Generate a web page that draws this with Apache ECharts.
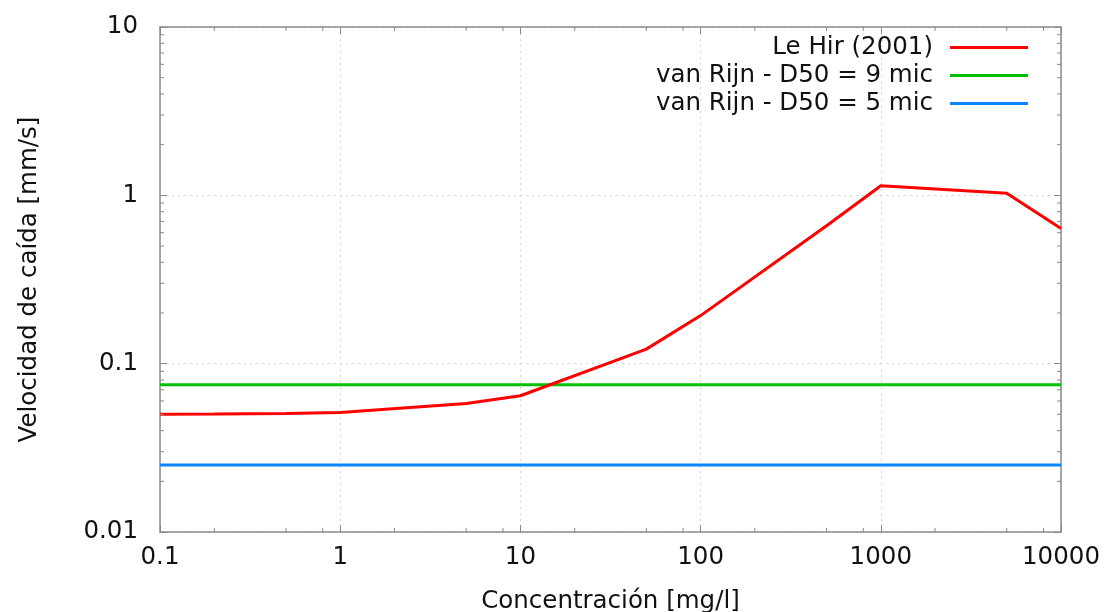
<!DOCTYPE html>
<html>
<head>
<meta charset="utf-8">
<script src="https://cdn.jsdelivr.net/npm/echarts@6/dist/echarts.min.js"></script>
<style>
  html, body { margin: 0; padding: 0; background: #fff; }
  #chart { width: 1111px; height: 612px; }
</style>
</head>
<body>
<div id="chart"></div>
<script>
// Concentration (mg/l) and settling velocity (mm/s)
const concentration = [0.1, 0.2, 0.5, 1, 5, 10, 50, 100, 500, 1000, 5000, 10000];
const leHir = [0.050, 0.0502, 0.0506, 0.0512, 0.058, 0.0645, 0.122, 0.193, 0.66, 1.14, 1.03, 0.635];
const vanRijnD9 = 0.075;
const vanRijnD5 = 0.025;
const xRange = [0.1, 10000];
const yRange = [0.01, 10];
const seriesNames = ['Le Hir (2001)', 'van Rijn - D50 = 9 mic', 'van Rijn - D50 = 5 mic'];

// Minor tick positions on the log axes
const xMinorFactors = [2, 5, 8];
const yMinorFactors = [2, 3, 4, 5, 6, 7, 8, 9];
const xDecades = [0.1, 1, 10, 100, 1000];
const yDecades = [0.01, 0.1, 1];

const xMinor = [];
xDecades.forEach(d => xMinorFactors.forEach(f => xMinor.push([d * f, yRange[0]])));
const yMinor = [];
yDecades.forEach(d => yMinorFactors.forEach(f => yMinor.push([xRange[0], d * f])));

const FONT = 'DejaVu Sans';
const FONT_SIZE = 24.5;
const TEXT_COLOR = '#111';
const AXIS_COLOR = '#8a8a8a';

// Plain decimal tick text (no thousands separators)
function tickText(v) {
  return String(+v.toPrecision(6));
}

const chart = echarts.init(document.getElementById('chart'), null, { renderer: 'canvas' });

function minorTickSeries(data, dir) {
  return {
    type: 'custom',
    silent: true,
    clip: false,
    data: data,
    z: 5,
    renderItem: function (params, api) {
      const len = 4;
      const lines = [];
      if (dir === 'x') {
        const bot = api.coord([api.value(0), yRange[0]]);
        const top = api.coord([api.value(0), yRange[1]]);
        lines.push({ x1: bot[0], y1: bot[1], x2: bot[0], y2: bot[1] - len });
        lines.push({ x1: top[0], y1: top[1], x2: top[0], y2: top[1] + len });
      } else {
        const l = api.coord([xRange[0], api.value(1)]);
        const r = api.coord([xRange[1], api.value(1)]);
        lines.push({ x1: l[0], y1: l[1], x2: l[0] + len, y2: l[1] });
        lines.push({ x1: r[0], y1: r[1], x2: r[0] - len, y2: r[1] });
      }
      return {
        type: 'group',
        children: lines.map(s => ({
          type: 'line',
          shape: s,
          style: { stroke: AXIS_COLOR, lineWidth: 1 }
        }))
      };
    }
  };
}

const commonAxis = {
  type: 'log',
  logBase: 10,
  axisLine: { show: true, onZero: false, lineStyle: { color: AXIS_COLOR, width: 1.5 } },
  axisTick: { show: true, inside: true, length: 7, lineStyle: { color: AXIS_COLOR } },
  minorTick: { show: false },
  splitLine: { show: false }
};

const gridLine = { show: true, lineStyle: { color: '#d6d6d6', type: [2, 4], width: 1 } };

const option = {
  animation: false,
  backgroundColor: '#ffffff',
  textStyle: { fontFamily: FONT },
  grid: { left: 160, right: 50, top: 27, bottom: 80, containLabel: false, outerBoundsMode: 'none' },
  legend: {
    data: seriesNames,
    orient: 'vertical',
    right: 78,
    top: 30,
    align: 'right',
    itemWidth: 78,
    itemHeight: 3,
    itemGap: 3,
    icon: 'rect',
    textStyle: { fontFamily: FONT, fontSize: FONT_SIZE, color: TEXT_COLOR, padding: [0, 12, 0, 0] }
  },
  xAxis: [
    Object.assign({}, commonAxis, {
      min: xRange[0], max: xRange[1],
      name: 'Concentración [mg/l]',
      nameLocation: 'middle',
      nameGap: 57,
      nameTextStyle: { fontFamily: FONT, fontSize: FONT_SIZE, color: TEXT_COLOR },
      axisLabel: { fontFamily: FONT, fontSize: FONT_SIZE, color: TEXT_COLOR, margin: 13, formatter: tickText },
      splitLine: gridLine
    }),
    Object.assign({}, commonAxis, {
      min: xRange[0], max: xRange[1], position: 'top',
      axisLabel: { show: false }
    })
  ],
  yAxis: [
    Object.assign({}, commonAxis, {
      min: yRange[0], max: yRange[1],
      name: 'Velocidad de caída [mm/s]',
      nameLocation: 'middle',
      nameGap: 118,
      nameTextStyle: { fontFamily: FONT, fontSize: FONT_SIZE, color: TEXT_COLOR },
      axisLabel: { fontFamily: FONT, fontSize: FONT_SIZE, color: TEXT_COLOR, margin: 22, formatter: tickText },
      splitLine: gridLine
    }),
    Object.assign({}, commonAxis, {
      min: yRange[0], max: yRange[1], position: 'right',
      axisLabel: { show: false }
    })
  ],
  series: [
    {
      name: seriesNames[0],
      type: 'line',
      data: concentration.map((c, i) => [c, leHir[i]]),
      showSymbol: false,
      symbol: 'none',
      lineStyle: { color: '#ff0000', width: 3 },
      itemStyle: { color: '#ff0000' },
      z: 4
    },
    {
      name: seriesNames[1],
      type: 'line',
      data: xRange.map(c => [c, vanRijnD9]),
      showSymbol: false,
      symbol: 'none',
      lineStyle: { color: '#00c000', width: 3 },
      itemStyle: { color: '#00c000' },
      z: 3
    },
    {
      name: seriesNames[2],
      type: 'line',
      data: xRange.map(c => [c, vanRijnD5]),
      showSymbol: false,
      symbol: 'none',
      lineStyle: { color: '#0a84ff', width: 3 },
      itemStyle: { color: '#0a84ff' },
      z: 3
    },
    minorTickSeries(xMinor, 'x'),
    minorTickSeries(yMinor, 'y')
  ]
};

chart.setOption(option);
</script>
</body>
</html>
